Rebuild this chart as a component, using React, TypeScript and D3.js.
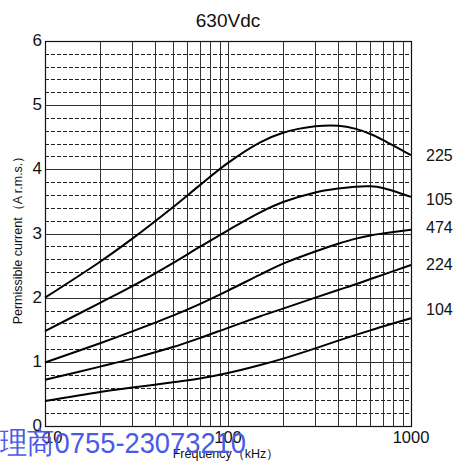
import React from "react";
import * as d3 from "d3";

const freqs = [10, 20, 30, 50, 70, 100, 150, 200, 300, 400, 500, 600, 700, 1000];
const seriesNames = ["225", "105", "474", "224", "104"];
const s225 = [2.0, 2.56, 2.92, 3.41, 3.75, 4.1, 4.42, 4.57, 4.67, 4.68, 4.63, 4.55, 4.46, 4.22];
const s105 = [1.48, 1.92, 2.18, 2.54, 2.79, 3.05, 3.33, 3.49, 3.64, 3.7, 3.73, 3.735, 3.71, 3.57];
const s474 = [0.99, 1.29, 1.475, 1.72, 1.9, 2.11, 2.36, 2.53, 2.72, 2.84, 2.92, 2.97, 3.0, 3.06];
const s224 = [0.72, 0.925, 1.05, 1.23, 1.37, 1.53, 1.71, 1.83, 2.0, 2.12, 2.21, 2.29, 2.355, 2.51];
const s104 = [0.39, 0.53, 0.6, 0.68, 0.74, 0.825, 0.95, 1.05, 1.21, 1.33, 1.42, 1.49, 1.55, 1.68];
const seriesValues = [s225, s105, s474, s224, s104];
const labelOffsets = [161, 205, 233, 270, 315];
const yTicks = [0, 1, 2, 3, 4, 5, 6];
const xTickLabels = [10, 100, 1000];
const title = "630Vdc";
const yLabel = "Permissible current（A r.m.s.）";
const xLabel = "Frequency（kHz）";
const watermark = "理商0755-23073210";

const W = 454, H = 461;
const L = 45, R = 411, T = 41, B = 426;
const font = "'Liberation Sans', Arial, sans-serif";

export default function App() {
  const x = d3.scaleLog().domain([10, 1000]).range([L, R]);
  const y = d3.scaleLinear().domain([0, 6]).range([B, T]);
  const vLines: number[] = [];
  for (const dec of [10, 100]) for (let k = 1; k <= 10; k++) vLines.push(dec * k);
  const dashed: number[] = [];
  for (let v = 0.2; v < 6; v += 0.2) {
    const r = Math.round(v * 10) / 10;
    if (Math.abs(r - Math.round(r)) > 0.01) dashed.push(r);
  }
  const line = d3
    .line<number>()
    .x((_, i) => x(freqs[i]))
    .y((d) => y(d))
    .curve(d3.curveCatmullRom.alpha(0.5));

  return (
    <svg width={W} height={H} style={{ position: "absolute", left: 0, top: 0, background: "#fff" }} fontFamily={font}>
      <rect x={0} y={0} width={W} height={H} fill="#fff" />
      {dashed.map((v) => (
        <line key={"d" + v} x1={L} x2={R} y1={Math.round(y(v)) + 0.5} y2={Math.round(y(v)) + 0.5} stroke="#222" strokeWidth={1} strokeDasharray="4,2" />
      ))}
      {yTicks.map((v) => (
        <line key={"h" + v} x1={L} x2={R} y1={Math.round(y(v)) + 0.5} y2={Math.round(y(v)) + 0.5} stroke="#333" strokeWidth={1} />
      ))}
      {vLines.map((f) => (
        <line key={"v" + f} x1={Math.round(x(f)) + 0.5} x2={Math.round(x(f)) + 0.5} y1={T} y2={B} stroke="#333" strokeWidth={1} />
      ))}
      <rect x={L + 0.5} y={T + 0.5} width={R - L} height={B - T} fill="none" stroke="#111" strokeWidth={1.2} />
      {seriesValues.map((vals, i) => (
        <path key={"s" + i} d={line(vals) || ""} fill="none" stroke="#000" strokeWidth={2} />
      ))}
      {seriesNames.map((n, i) => (
        <text key={"n" + n} x={426} y={labelOffsets[i]} fontSize={16} fill="#111">
          {n}
        </text>
      ))}
      {yTicks.map((v) => (
        <text key={"yt" + v} x={42} y={y(v) + 5} fontSize={17} textAnchor="end" fill="#111">
          {v}
        </text>
      ))}
      {xTickLabels.map((f, i) => (
        <text key={"xt" + f} x={i === 0 ? 44 : x(f)} y={443} fontSize={16.5} textAnchor={i === 0 ? "start" : "middle"} fill="#111">
          {f}
        </text>
      ))}
      <text x={228} y={27} fontSize={19} textAnchor="middle" fill="#111">
        {title}
      </text>
      <text transform={`translate(22,${237}) rotate(-90)`} fontSize={12.5} textAnchor="middle" fill="#111">
        {yLabel}
      </text>
      <text x={226} y={458} fontSize={12.5} textAnchor="middle" fill="#111">
        {xLabel}
      </text>
      <text x={0} y={453} fontSize={30} fill="#4a5ae8" textLength={246} lengthAdjust="spacingAndGlyphs">
        {watermark}
      </text>
    </svg>
  );
}
